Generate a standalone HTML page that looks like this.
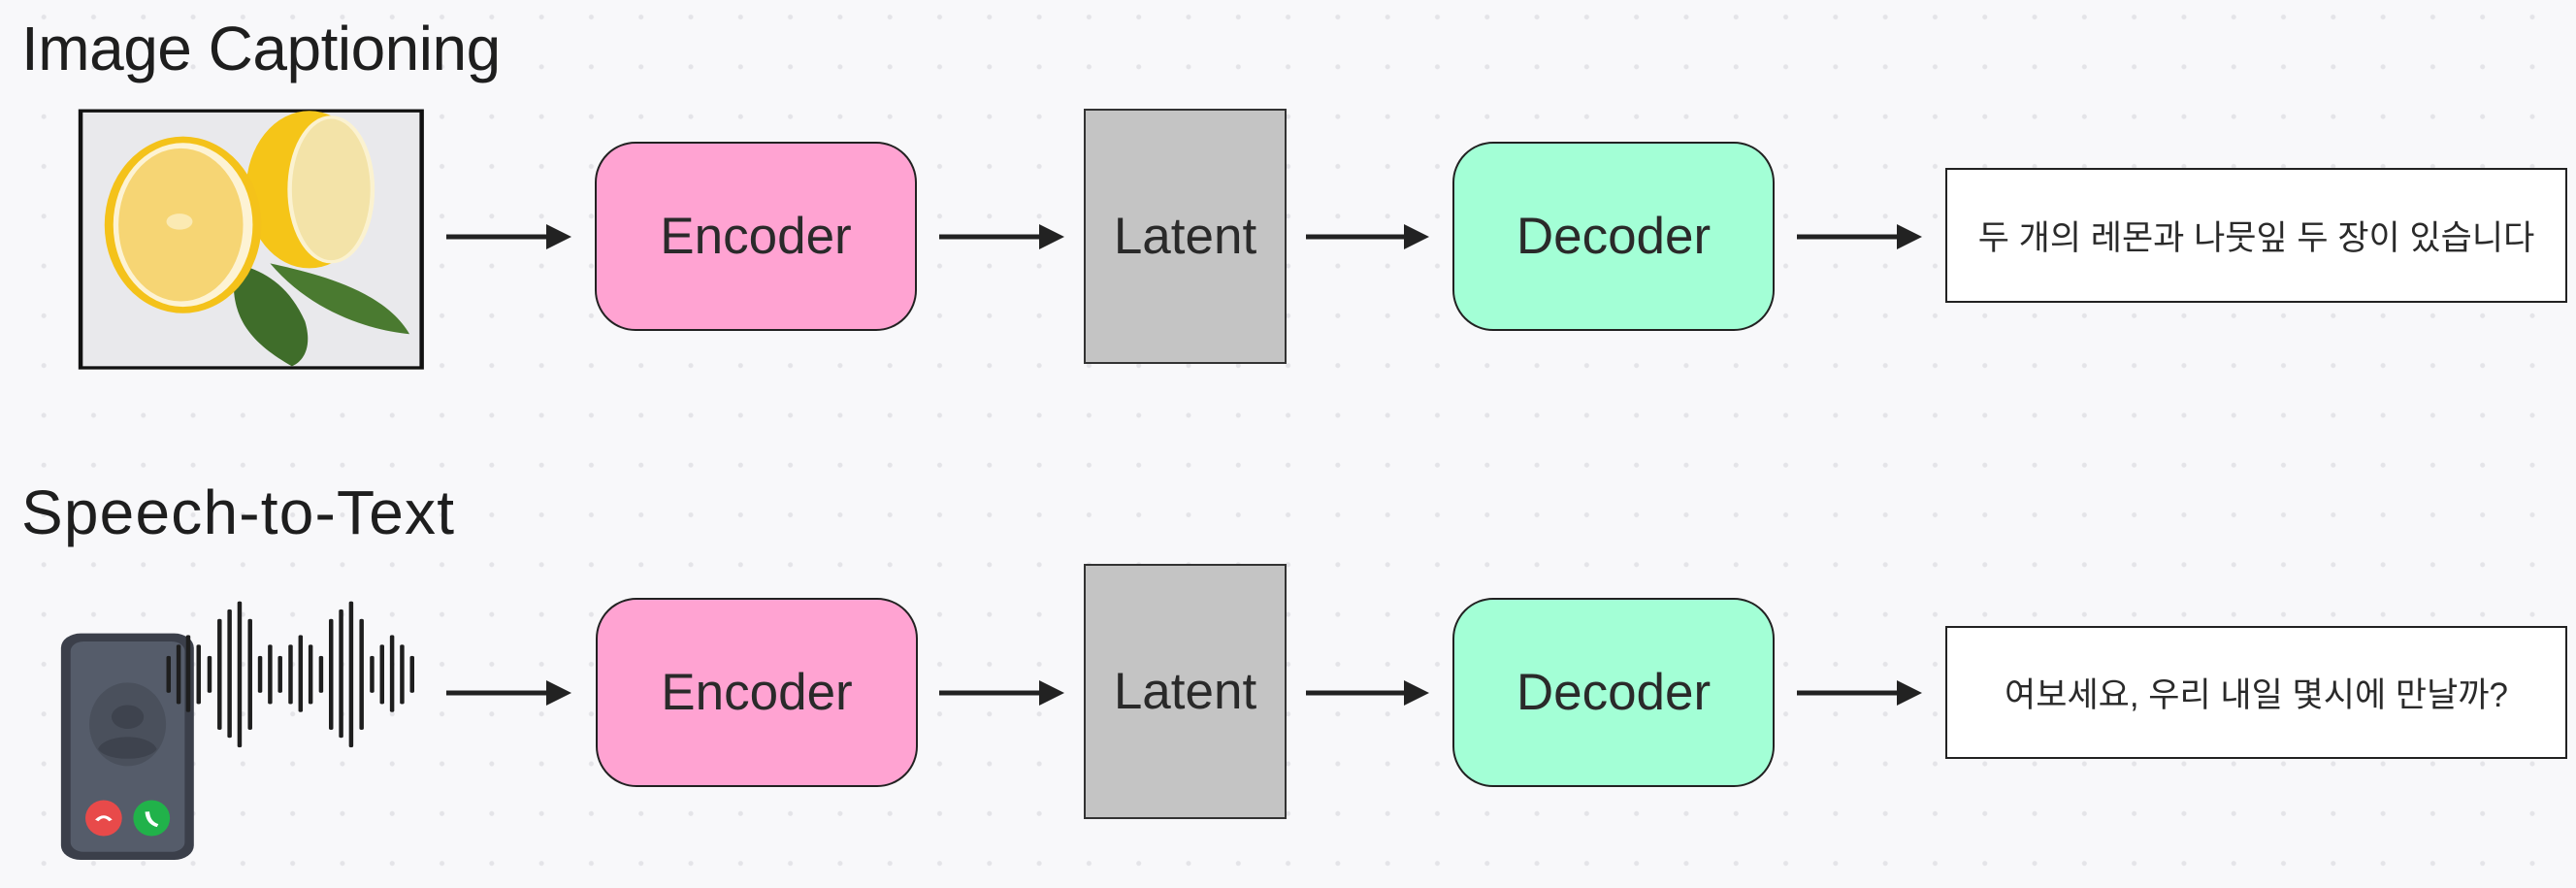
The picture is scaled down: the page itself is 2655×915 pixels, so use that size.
<!DOCTYPE html>
<html><head><meta charset="utf-8">
<style>
html,body{margin:0;padding:0}
body{width:2655px;height:915px;position:relative;overflow:hidden;background-color:#f8f8fa;
background-image:radial-gradient(circle,#e4e4e8 2.2px,transparent 2.8px);background-size:51.3px 51.3px;background-position:19.5px 94.5px;
font-family:"Liberation Sans","Noto Sans CJK KR",sans-serif;color:#222}
.t{position:absolute;left:22px;font-size:64px;line-height:1;color:#1e1e1e;letter-spacing:-0.5px}
.box{position:absolute;box-sizing:border-box;border:2px solid #222;display:flex;align-items:center;justify-content:center;font-size:53px;color:#2a2a2a}
.enc{background:#ffa3d2;border-radius:42px}
.dec{background:#a3ffd6;border-radius:42px}
.lat{background:#c4c4c4;border:2px solid #333}
.out{background:#fff;border:2.5px solid #222;font-size:35px;font-family:"Liberation Sans","Noto Sans CJK KR",sans-serif}
svg{position:absolute;left:0;top:0}
</style></head><body>
<div class="t" style="top:18px">Image Captioning</div>
<div class="t" style="top:496px;letter-spacing:1.2px">Speech-to-Text</div>

<div class="box enc" style="left:613px;top:146px;width:332px;height:195px">Encoder</div>
<div class="box lat" style="left:1117px;top:112px;width:209px;height:263px">Latent</div>
<div class="box dec" style="left:1497px;top:146px;width:332px;height:195px">Decoder</div>
<div class="box out" style="left:2005px;top:173px;width:641px;height:139px">두 개의 레몬과 나뭇잎 두 장이 있습니다</div>

<div class="box enc" style="left:614px;top:616px;width:332px;height:195px">Encoder</div>
<div class="box lat" style="left:1117px;top:581px;width:209px;height:263px">Latent</div>
<div class="box dec" style="left:1497px;top:616px;width:332px;height:195px">Decoder</div>
<div class="box out" style="left:2005px;top:645px;width:641px;height:137px">여보세요, 우리 내일 몇시에 만날까?</div>

<svg width="2655" height="915" viewBox="0 0 2655 915">
<g fill="#222" stroke="#222" stroke-width="5">
<line x1="460" y1="244" x2="565" y2="244"/><polygon points="563,231 589,244 563,257" stroke="none"/>
<line x1="968" y1="244" x2="1073" y2="244"/><polygon points="1071,231 1097,244 1071,257" stroke="none"/>
<line x1="1346" y1="244" x2="1449" y2="244"/><polygon points="1447,231 1473,244 1447,257" stroke="none"/>
<line x1="1852" y1="244" x2="1957" y2="244"/><polygon points="1955,231 1981,244 1955,257" stroke="none"/>
<line x1="460" y1="714" x2="565" y2="714"/><polygon points="563,701 589,714 563,727" stroke="none"/>
<line x1="968" y1="714" x2="1073" y2="714"/><polygon points="1071,701 1097,714 1071,727" stroke="none"/>
<line x1="1346" y1="714" x2="1449" y2="714"/><polygon points="1447,701 1473,714 1447,727" stroke="none"/>
<line x1="1852" y1="714" x2="1957" y2="714"/><polygon points="1955,701 1981,714 1955,727" stroke="none"/>
</g>

<g transform="scale(0.449,0.331)">
<rect x="185" y="345" width="783" height="800" fill="#e9e9ec" stroke="#111" stroke-width="10"/>
<path d="M540,820 C600,840 660,880 700,1000 C720,1090 690,1130 670,1140 C580,1070 520,990 540,820Z" fill="#3f6d2a"/>
<path d="M620,820 C720,850 880,900 940,1040 C860,1030 720,980 620,820Z" fill="#4a7a30"/>
<ellipse cx="710" cy="590" rx="145" ry="245" fill="#f5c518"/>
<ellipse cx="760" cy="590" rx="95" ry="225" fill="#f3e3a8" stroke="#fbf2d0" stroke-width="10"/>
<ellipse cx="420" cy="700" rx="180" ry="275" fill="#f4c21a"/>
<ellipse cx="420" cy="700" rx="160" ry="255" fill="#fdf3d4"/>
<ellipse cx="415" cy="700" rx="143" ry="238" fill="#f6d574"/>
<ellipse cx="412" cy="690" rx="30" ry="25" fill="#fbeab3"/>
</g>

<g transform="translate(0,560) scale(0.449,0.331)">
<rect x="140" y="280" width="305" height="705" rx="45" fill="#3b3f4a"/>
<rect x="162" y="305" width="262" height="655" rx="30" fill="#555c6a"/>
<ellipse cx="293" cy="563" rx="88" ry="130" fill="#4a505c"/>
<circle cx="293" cy="540" r="37" fill="#3e434e"/>
<path d="M225,640 C240,590 345,590 360,640 C340,680 245,680 225,640Z" fill="#3e434e"/>
<ellipse cx="238" cy="855" rx="42" ry="56" fill="#e84a4a"/>
<ellipse cx="348" cy="855" rx="42" ry="56" fill="#21b24a"/>
<path d="M222,862 Q238,840 254,862" stroke="#fff" stroke-width="9" fill="none"/>
<path d="M338,835 Q340,870 362,878" stroke="#fff" stroke-width="10" fill="none"/>
<g stroke="#1e1e1e" stroke-width="10" stroke-linecap="round">
<line x1="387" y1="355" x2="387" y2="460"/>
<line x1="410" y1="320" x2="410" y2="495"/>
<line x1="432" y1="290" x2="432" y2="520"/>
<line x1="456" y1="320" x2="456" y2="495"/>
<line x1="481" y1="355" x2="481" y2="460"/>
<line x1="504" y1="240" x2="504" y2="575"/>
<line x1="527" y1="210" x2="527" y2="600"/>
<line x1="550" y1="185" x2="550" y2="630"/>
<line x1="574" y1="240" x2="574" y2="575"/>
<line x1="597" y1="355" x2="597" y2="460"/>
<line x1="620" y1="320" x2="620" y2="495"/>
<line x1="643" y1="355" x2="643" y2="460"/>
<line x1="667" y1="320" x2="667" y2="495"/>
<line x1="690" y1="290" x2="690" y2="520"/>
<line x1="713" y1="320" x2="713" y2="495"/>
<line x1="737" y1="355" x2="737" y2="460"/>
<line x1="760" y1="240" x2="760" y2="575"/>
<line x1="783" y1="210" x2="783" y2="600"/>
<line x1="806" y1="185" x2="806" y2="630"/>
<line x1="830" y1="240" x2="830" y2="575"/>
<line x1="854" y1="355" x2="854" y2="460"/>
<line x1="877" y1="320" x2="877" y2="495"/>
<line x1="900" y1="290" x2="900" y2="520"/>
<line x1="923" y1="320" x2="923" y2="495"/>
<line x1="946" y1="355" x2="946" y2="460"/>
</g>
</g>
</svg>
</body></html>
